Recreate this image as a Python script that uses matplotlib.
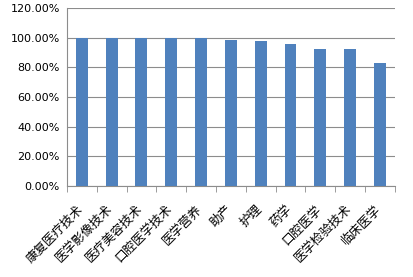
import matplotlib.pyplot as plt
import matplotlib.transforms as mtransforms
from matplotlib.ticker import FuncFormatter, FixedLocator

plt.rcParams['font.family'] = ['Noto Sans CJK SC', 'DejaVu Sans']

majors = ['康复医疗技术', '医学影像技术', '医疗美容技术', '口腔医学技术', '医学营养',
          '助产', '护理', '药学', '口腔医学', '医学检验技术', '临床医学']
rates = [100.0, 100.0, 100.0, 100.0, 100.0, 98.2, 97.5, 95.5, 92.1, 92.1, 82.6]

fig = plt.figure(figsize=(4.13, 2.77), dpi=100)
ax = fig.add_axes([0.162, 0.329, 0.794, 0.642])

x = range(len(majors))
ax.bar(x, rates, width=0.4, color='#4f81bd', zorder=3)

ax.set_ylim(0, 120)
ax.set_yticks(range(0, 121, 20))
ax.yaxis.set_major_formatter(FuncFormatter(lambda v, p: f'{v:.2f}%'))
ax.grid(axis='y', color='#8c8c8c', linewidth=0.8, zorder=0)
ax.set_xlim(-0.5, len(majors) - 0.5)

ax.set_xticks(list(x))
ax.set_xticklabels(majors, rotation=45, ha='right', rotation_mode='anchor', fontsize=9)
ax.tick_params(axis='x', length=0, pad=12)
shift = mtransforms.ScaledTranslation(-4 / 72, 0, fig.dpi_scale_trans)
for lbl in ax.get_xticklabels():
    lbl.set_transform(lbl.get_transform() + shift)
ax.xaxis.set_minor_locator(FixedLocator([i - 0.5 for i in range(len(majors) + 1)]))
ax.tick_params(axis='x', which='minor', length=4, color='#8c8c8c', direction='out')
ax.tick_params(axis='y', length=0, labelsize=8, pad=5)
for lbl in ax.get_yticklabels():
    lbl.set_family('DejaVu Sans')

for s in ['top', 'right']:
    ax.spines[s].set_visible(False)
for s in ['left', 'bottom']:
    ax.spines[s].set_color('#8c8c8c')

fig.savefig('out.png', dpi=100)
